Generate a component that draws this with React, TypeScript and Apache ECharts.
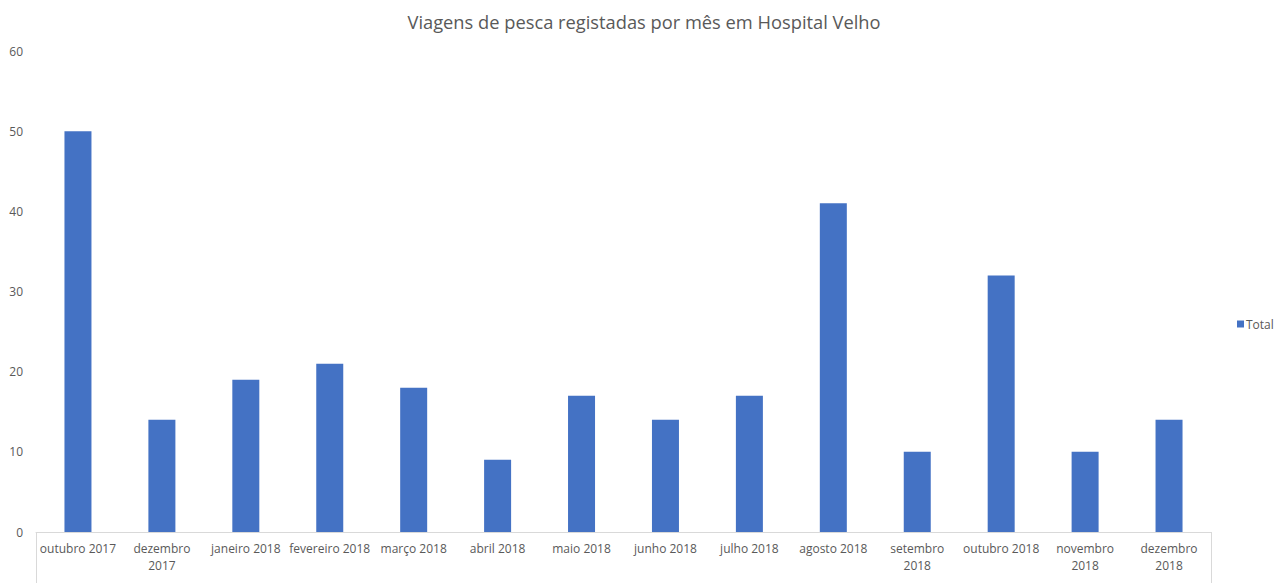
import React, { useEffect, useRef } from "react";
import * as echarts from "echarts";

const categories = [
  "outubro 2017",
  "dezembro\n2017",
  "janeiro 2018",
  "fevereiro 2018",
  "março 2018",
  "abril 2018",
  "maio 2018",
  "junho 2018",
  "julho 2018",
  "agosto 2018",
  "setembro\n2018",
  "outubro 2018",
  "novembro\n2018",
  "dezembro\n2018",
];
const totals = [50, 14, 19, 21, 18, 9, 17, 14, 17, 41, 10, 32, 10, 14];
const seriesName = "Total";
const titleText = "Viagens de pesca registadas por mês em Hospital Velho";

export default function App() {
  const ref = useRef<HTMLDivElement>(null);
  useEffect(() => {
    if (!ref.current) return;
    const chart = echarts.init(ref.current, undefined, { renderer: "svg" });
    const font = "'Open Sans', 'Noto Sans', sans-serif";
    chart.setOption({
      animation: false,
      backgroundColor: "#ffffff",
      textStyle: { fontFamily: font },
      title: {
        text: titleText,
        left: 639,
        top: 7,
        textAlign: "center",
        textStyle: { color: "#595959", fontSize: 18.3, fontWeight: "normal", fontFamily: font },
      },
      legend: {
        data: [seriesName],
        left: 1232,
        top: 313,
        orient: "vertical",
        itemWidth: 7,
        itemHeight: 7,
        itemGap: 4,
        icon: "rect",
        textStyle: { color: "#595959", fontSize: 12, fontFamily: font, padding: [0, 0, 0, -3] },
      },
      grid: { left: 36, right: 63, top: 51, bottom: 51, containLabel: false },
      xAxis: {
        type: "category",
        data: categories,
        boundaryGap: true,
        axisLine: { show: true, lineStyle: { color: "#D9D9D9", width: 1 } },
        axisTick: {
          show: true,
          length: 52,
          interval: (index: number) => index === 0,
          lineStyle: { color: "#D9D9D9", width: 1 },
        },
        axisLabel: {
          interval: 0,
          color: "#595959",
          fontSize: 12,
          fontFamily: font,
          margin: 8,
          lineHeight: 17,
          align: "center",
        },
      },
      yAxis: {
        type: "value",
        min: 0,
        max: 60,
        interval: 10,
        splitLine: { show: false },
        axisLine: { show: false },
        axisTick: { show: false },
        axisLabel: { color: "#595959", fontSize: 12, fontFamily: font, margin: 13 },
      },
      series: [
        {
          name: seriesName,
          type: "bar",
          data: totals,
          barWidth: 27,
          itemStyle: { color: "#4472C4" },
        },
      ],
    });
    return () => chart.dispose();
  }, []);
  return (
    <div
      ref={ref}
      style={{ position: "absolute", left: 0, top: 0, width: 1274, height: 583 }}
    />
  );
}
